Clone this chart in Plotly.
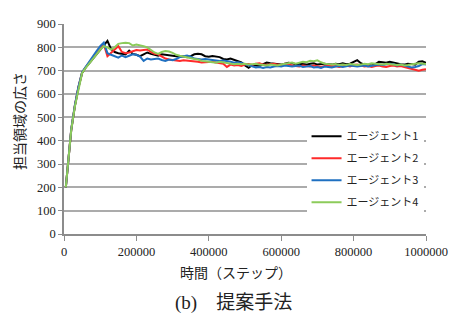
import plotly.graph_objects as go

# time steps: first sample at 5000, then every 10000 up to 1,000,000
steps = [5000] + [k * 10000 for k in range(1, 101)]

series_names = ["エージェント1", "エージェント2", "エージェント3", "エージェント4"]

agent1 = [200,
          290, 445, 548, 628, 690, 714, 732, 752, 772, 792,
          808, 828, 792, 780, 775, 772, 770, 786, 772, 768,
          762, 770, 778, 772, 768, 764, 770, 768, 766, 764,
          762, 760, 762, 758, 762, 770, 772, 770, 762, 760,
          763, 762, 758, 750, 748, 752, 746, 740, 735, 722,
          712, 724, 722, 720, 728, 735, 732, 730, 728, 726,
          730, 734, 732, 728, 730, 728, 726, 730, 732, 726,
          728, 730, 728, 726, 730, 728, 732, 728, 730, 736,
          745, 732, 726, 724, 722, 728, 738, 736, 734, 738,
          734, 730, 728, 726, 730, 728, 726, 738, 740, 734]

agent2 = [200,
          292, 448, 550, 630, 692, 716, 736, 756, 776, 796,
          812, 762, 775, 790, 805, 780, 775, 778, 784, 788,
          786, 790, 791, 780, 772, 770, 760, 752, 748, 745,
          742, 742, 745, 744, 740, 742, 738, 735, 736, 736,
          738, 735, 733, 730, 716, 726, 722, 724, 720, 726,
          728, 724, 730, 732, 726, 724, 728, 730, 726, 724,
          730, 728, 722, 720, 718, 722, 720, 718, 722, 720,
          716, 720, 722, 718, 720, 716, 720, 722, 718, 724,
          726, 722, 718, 720, 716, 720, 722, 718, 716, 720,
          722, 718, 720, 716, 712, 708, 702, 700, 704, 706]

agent3 = [200,
          294, 450, 552, 632, 694, 718, 740, 762, 784, 805,
          820, 775, 768, 762, 756, 765, 758, 764, 770, 768,
          760, 742, 752, 748, 750, 752, 746, 742, 748, 745,
          750, 758, 762, 765, 760, 752, 750, 748, 750, 748,
          746, 744, 742, 744, 742, 738, 734, 736, 733, 728,
          722, 718, 714, 716, 712, 716, 714, 718, 720, 718,
          722, 720, 718, 720, 722, 716, 718, 720, 714, 716,
          712, 718, 716, 714, 718, 720, 716, 720, 722, 720,
          718, 720, 722, 718, 720, 724, 726, 724, 728, 730,
          728, 722, 726, 722, 718, 714, 716, 720, 728, 726]

agent4 = [200,
          290, 446, 546, 626, 690, 712, 730, 750, 770, 790,
          805, 800, 790, 800, 815, 818, 820, 818, 808, 812,
          810, 805, 800, 790, 778, 772, 780, 784, 782, 776,
          768, 764, 760, 755, 752, 750, 748, 742, 740, 738,
          736, 734, 738, 736, 734, 730, 728, 730, 728, 730,
          726, 728, 730, 726, 724, 722, 726, 724, 722, 726,
          728, 732, 735, 730, 734, 738, 736, 742, 740, 744,
          736, 730, 728, 726, 728, 724, 726, 724, 728, 726,
          724, 726, 730, 728, 732, 730, 728, 726, 730, 728,
          726, 724, 726, 722, 724, 728, 730, 732, 730, 728]

colors = ["#000000", "#FF2A2A", "#1F70C1", "#8CCB5A"]

x_ticks = [0, 200000, 400000, 600000, 800000, 1000000]
y_ticks = [0, 100, 200, 300, 400, 500, 600, 700, 800, 900]

fig = go.Figure()
for i, (name, vals) in enumerate(zip(series_names, [agent1, agent2, agent3, agent4])):
    fig.add_trace(go.Scatter(
        x=steps, y=vals, mode="lines", name=name,
        legendgroup=f"g{i}",
        line=dict(color=colors[i], width=2),
    ))

serif = "Times New Roman, Liberation Serif, DejaVu Serif, serif"
tick_font = dict(family=serif, size=12.5, color="#222222")
jp = "Noto Sans CJK JP, sans-serif"

# the page body adds an 8px margin, so the figure is sized/offset to compensate
fig.update_layout(
    width=449, height=313,
    margin=dict(l=56, r=23, t=9, b=87),
    paper_bgcolor="white", plot_bgcolor="white",
    showlegend=True,
    legend=dict(
        x=0.67, y=0.535, xanchor="left", yanchor="top",
        bgcolor="white", borderwidth=0,
        font=dict(family=jp, size=11, color="#222222"),
        tracegroupgap=3,
    ),
    xaxis=dict(
        range=[0, 1000000], tickvals=x_ticks, ticktext=[str(v) for v in x_ticks],
        showgrid=False, zeroline=False,
        showline=True, linecolor="#8c8c8c", linewidth=1.5,
        ticks="outside", ticklen=5, tickcolor="#8c8c8c", tickwidth=1,
        tickfont=tick_font, ticklabeloverflow="allow",
    ),
    yaxis=dict(
        range=[0, 900], tickvals=y_ticks, ticktext=[str(v) for v in y_ticks],
        showgrid=True, gridcolor="#ababab", gridwidth=1.5, zeroline=False,
        showline=True, linecolor="#8c8c8c", linewidth=1.5,
        ticks="outside", ticklen=4, tickcolor="#8c8c8c", tickwidth=1,
        tickfont=tick_font,
    ),
    annotations=[
        dict(text="担当領域の広さ", xref="paper", yref="paper",
             x=-0.125, y=0.537, xanchor="center", yanchor="middle",
             textangle=-90, showarrow=False,
             font=dict(family=jp, size=14, color="#222222")),
        dict(text="時間（ステップ）", xref="paper", yref="paper",
             x=0.476, y=-0.18, xanchor="center", yanchor="middle",
             showarrow=False,
             font=dict(family=jp, size=14, color="#222222")),
        dict(text="(b)　提案手法", xref="paper", yref="paper",
             x=0.467, y=-0.33, xanchor="center", yanchor="middle",
             showarrow=False,
             font=dict(family="Times New Roman, Liberation Serif, Noto Sans CJK JP, serif",
                       size=19, color="#222222")),
    ],
)

fig.write_html("out.html")
